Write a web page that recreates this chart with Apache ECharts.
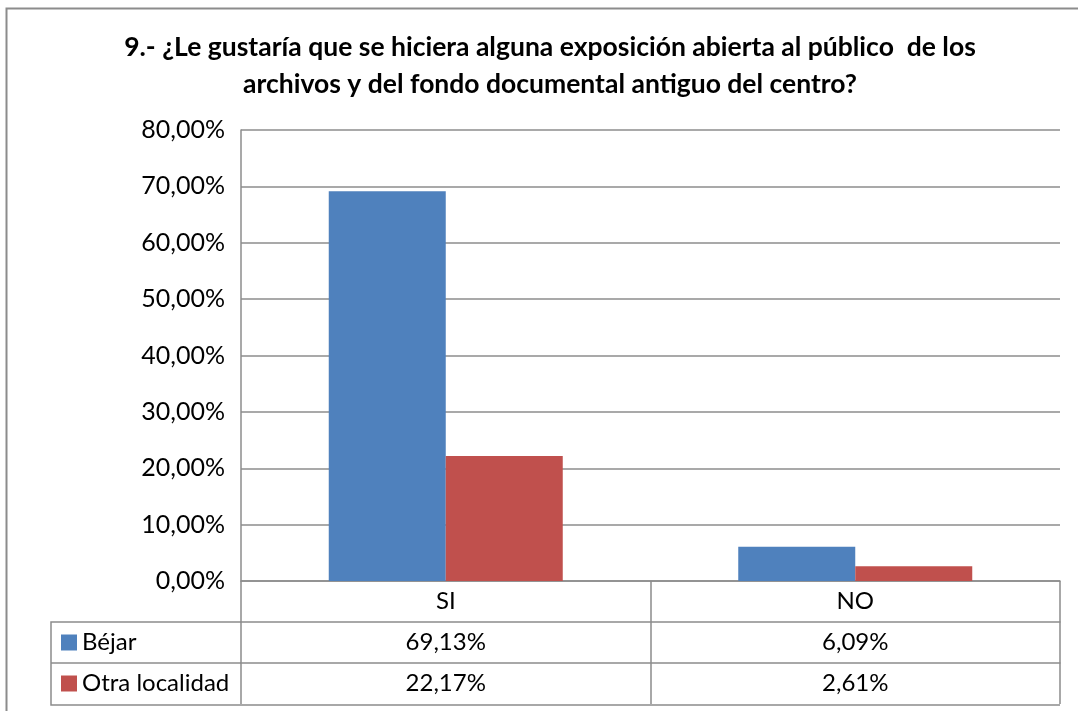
<!DOCTYPE html>
<html>
<head>
<meta charset="utf-8">
<script src="https://cdn.jsdelivr.net/npm/echarts@6/dist/echarts.min.js"></script>
<style>
	html, body { margin: 0; padding: 0; background: #fff; }
	#chart { width: 1078px; height: 711px; }
</style>
</head>
<body>
<div id="chart"></div>
<script>
// datos del grafico
var categories = ['SI', 'NO'];
var seriesNames = ['Béjar', 'Otra localidad'];
var bejar = [0.6913, 0.0609];
var otra = [0.2217, 0.0261];
var titleLines = [
	'9.- ¿Le gustaría que se hiciera alguna exposición abierta al público  de los',
	'archivos y del fondo documental antiguo del centro?'
];

var FONT = 'Lato, "Open Sans", sans-serif';
var LINE = '#8c8c8c';
var ROW = 41;
var FS = 24;

// 0,6913 -> "69,13%"
function pct(v) {
	return (v * 100).toFixed(2).replace('.', ',') + '%';
}

// eje x para cada fila de la tabla de datos
function tableAxis(offset, labels) {
	return {
		type: 'category',
		data: categories,
		position: 'bottom',
		offset: offset,
		axisLine: { show: true, lineStyle: { color: LINE, width: 1.5 } },
		axisTick: { show: true, length: ROW, lineStyle: { color: LINE, width: 1.5 } },
		axisLabel: {
			show: true,
			margin: 8.5,
			fontSize: FS,
			lineHeight: 24,
			color: '#000',
			fontFamily: FONT,
			formatter: function(val, idx) { return labels[idx]; }
		}
	};
}

var chart = echarts.init(document.getElementById('chart'));
chart.setOption({
	animation: false,
	backgroundColor: '#fff',
	title: {
		text: titleLines.join('\n'),
		left: 545,
		top: 23.5,
		textAlign: 'center',
		textStyle: { fontSize: 26.5, fontWeight: 'bold', fontFamily: FONT, color: '#000', lineHeight: 37 }
	},
	legend: {
		orient: 'vertical',
		left: 56,
		top: 625.5,
		itemWidth: 16,
		itemHeight: 16,
		itemGap: 17,
		icon: 'rect',
		data: seriesNames,
		textStyle: { fontSize: FS, lineHeight: 24, color: '#000', fontFamily: FONT }
	},
	grid: { left: 241, right: 18, top: 130, bottom: 130, containLabel: false },
	xAxis: [
		tableAxis(0, categories),
		tableAxis(ROW, bejar.map(pct)),
		tableAxis(ROW * 2, otra.map(pct))
	],
	yAxis: {
		type: 'value',
		min: 0,
		max: 0.8,
		interval: 0.1,
		axisLine: { show: true, lineStyle: { color: LINE, width: 1.5 } },
		axisTick: { show: false },
		splitLine: { lineStyle: { color: LINE, width: 1.5 } },
		axisLabel: { fontSize: 25, color: '#000', fontFamily: FONT, margin: 16, formatter: pct }
	},
	series: [
		{ name: seriesNames[0], type: 'bar', data: bejar, barWidth: 117, barGap: '0%', itemStyle: { color: '#4f81bd' } },
		{ name: seriesNames[1], type: 'bar', data: otra, barWidth: 117, barGap: '0%', itemStyle: { color: '#c0504d' } }
	],
	graphic: [
		// marco exterior
		{ type: 'rect', shape: { x: 6.5, y: 8.5, width: 1200, height: 800 }, style: { fill: null, stroke: '#8c8c8c', lineWidth: 2 }, silent: true },
		// columna de la leyenda
		{ type: 'polyline', shape: { points: [[241, 622], [51, 622], [51, 705], [1060, 705]] }, style: { fill: null, stroke: LINE, lineWidth: 1.5 }, silent: true },
		{ type: 'line', shape: { x1: 51, y1: 663, x2: 241, y2: 663 }, style: { stroke: LINE, lineWidth: 1.5 }, silent: true }
	]
});
</script>
</body>
</html>
